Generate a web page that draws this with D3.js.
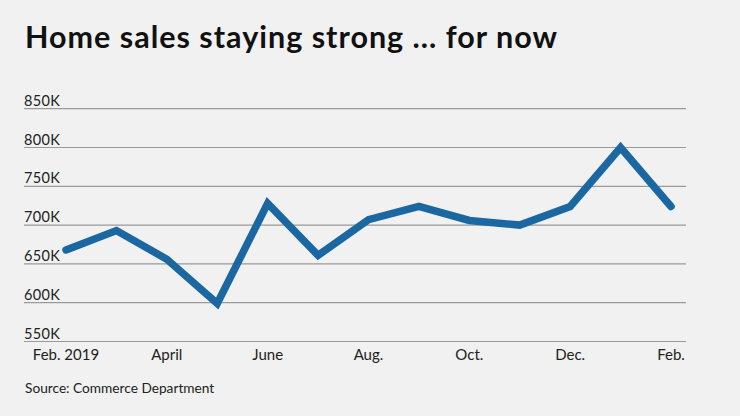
<!DOCTYPE html>
<html>
<head>
<meta charset="utf-8">
<script src="https://cdn.jsdelivr.net/npm/d3@7"></script>
<style>
  html, body { margin: 0; padding: 0; background: #f0f1f0; }
  svg { display: block; }
  .title  { font-family: Lato, sans-serif; font-weight: 700; font-size: 30.5px; letter-spacing: 1px; fill: #111; }
  .y-tick { font-family: Lato, sans-serif; font-size: 14.5px; letter-spacing: 0.3px; fill: #222; }
  .x-tick { font-family: Lato, sans-serif; font-size: 15px; fill: #222; }
  .source { font-family: Lato, sans-serif; font-size: 13.7px; fill: #222; }
  .grid   { stroke: #9a9a9a; stroke-width: 1.2; }
</style>
</head>
<body>
<svg id="chart"></svg>
<script>

// Monthly new home sales (seasonally adjusted annual rate, thousands).
const months  = [ 'Feb. 2019', 'Mar', 'April', 'May', 'June', 'Jul', 'Aug.', 'Sep', 'Oct.', 'Nov', 'Dec.', 'Jan', 'Feb.' ];
const sales   = [ 668, 693, 656, 599, 728, 661, 707, 724, 706, 700, 724, 800, 724 ];
const xLabels = [ 'Feb. 2019', 'April', 'June', 'Aug.', 'Oct.', 'Dec.', 'Feb.' ];
const yTicks  = [ 550, 600, 650, 700, 750, 800, 850 ];

const title  = 'Home sales staying strong ... for now';
const source = 'Source: Commerce Department';

// Builds the line chart, one step at a time.
class ChartBuilder {

  constructor ( ) {
    this.width  = 740;
    this.height = 416;
    this.gridLeft  = 24;
    this.gridRight = 686;
    this.and = this;
  }

  makeCanvas ( ) {
    this.svg = d3.select( '#chart' )
      .attr( 'width' , this.width )
      .attr( 'height', this.height );
    return this;
  }

  setScales ( ) {
    this.x = d3.scaleLinear( )
      .domain( [ 0, months.length - 1 ] )
      .range( [ 66, 671 ] );
    this.y = d3.scaleLinear( )
      .domain( [ 550, 850 ] )
      .range( [ 341.5, 108.7 ] );
    return this;
  }

  drawTexts ( ) {
    this.svg.append( 'text' )
      .attr( 'class', 'title' )
      .attr( 'x'    , 25 )
      .attr( 'y'    , 48 )
      .text( title );
    this.svg.append( 'text' )
      .attr( 'class', 'source' )
      .attr( 'x'    , 25 )
      .attr( 'y'    , 393 )
      .text( source );
    return this;
  }

  // Gridlines with their labels sitting on top, left aligned.
  drawGrid ( ) {
    const g = this.svg.append( 'g' ).attr( 'id', 'y-axis' );
    g.selectAll( 'line' )
      .data( yTicks )
      .enter( )
      .append( 'line' )
        .attr( 'class', 'grid' )
        .attr( 'x1'   , this.gridLeft )
        .attr( 'x2'   , this.gridRight )
        .attr( 'y1'   , d => this.y( d ) )
        .attr( 'y2'   , d => this.y( d ) );
    g.selectAll( 'text' )
      .data( yTicks )
      .enter( )
      .append( 'text' )
        .attr( 'class', 'y-tick' )
        .attr( 'x'    , this.gridLeft )
        .attr( 'y'    , d => this.y( d ) - 3 )
        .text( d => d + 'K' );
    return this;
  }

  drawXLabels ( ) {
    this.svg.append( 'g' )
      .attr( 'id', 'x-axis' )
      .selectAll( 'text' )
      .data( xLabels )
      .enter( )
      .append( 'text' )
        .attr( 'class'      , 'x-tick' )
        .attr( 'text-anchor', 'middle' )
        .attr( 'x'          , d => this.x( months.indexOf( d ) ) )
        .attr( 'y'          , 360 )
        .text( d => d );
    return this;
  }

  drawLine ( ) {
    const line = d3.line( )
      .x( ( d, i ) => this.x( i ) )
      .y( d => this.y( d ) );
    this.svg.append( 'path' )
      .datum( sales )
      .attr( 'd'              , line )
      .attr( 'fill'           , 'none' )
      .attr( 'stroke'         , '#1b67a2' )
      .attr( 'stroke-width'   , 7.5 )
      .attr( 'stroke-linejoin', 'miter' )
      .attr( 'stroke-linecap' , 'round' );
    return this;
  }

}

new ChartBuilder( ).makeCanvas( ).setScales( ).drawTexts( ).drawGrid( ).drawXLabels( ).and.drawLine( );

</script>
</body>
</html>
